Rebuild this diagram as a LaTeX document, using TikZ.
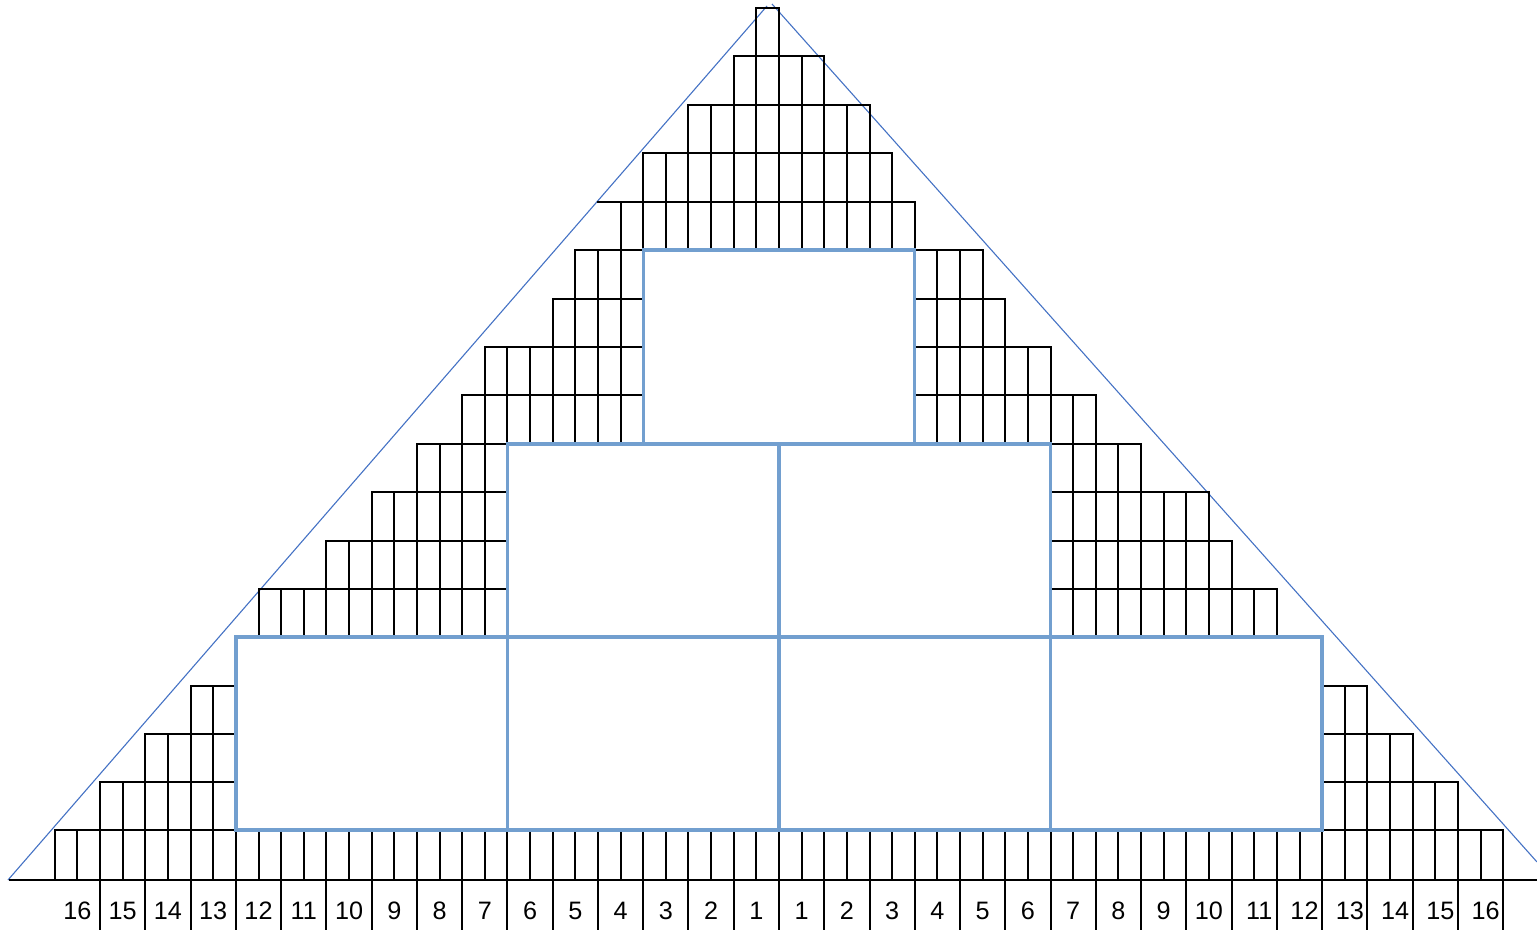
\documentclass[tikz,border=0pt]{standalone}
\usepackage{fontspec}
\setmainfont{Liberation Sans}
\definecolor{framecol}{RGB}{114,159,207}
\definecolor{guidecol}{RGB}{68,114,196}
\begin{document}
\begin{tikzpicture}[x=0.5pt,y=-0.5pt,
  cell/.style={line width=1pt, draw=black, line cap=rect},
  blueframe/.style={line width=1.7pt, draw=framecol},
  guide/.style={line width=0.55pt, draw=guidecol},
  lbl/.style={font=\fontsize{12.6}{14}\selectfont, inner sep=0pt}]
\useasboundingbox (0,0) rectangle (1537,930);
\def\c{779}
\def\h{22.63}
% guide lines of the triangle
\coordinate (gl0) at (8,880);
\coordinate (gl1) at (767,6);
\coordinate (gr0) at (772,4);
\coordinate (gr1) at (1537,862);
\draw[guide] (gl0) -- (gl1);
\draw[guide] (gr0) -- (gr1);
% black cells: top/bottom/first/last half-column
\foreach \t/\b/\a/\e in {
  830/880/-32/32,
  782/830/-30/-24, 782/830/24/30,
  734/782/-28/-24, 734/782/24/28,
  686/734/-26/-24, 686/734/24/26,
  589/637/-23/-12, 589/637/12/22,
  541/589/-20/-12, 541/589/12/20,
  492/541/-18/-12, 492/541/12/19,
  444/492/-16/-12, 444/492/12/16,
  395/444/-14/-6, 395/444/6/14,
  347/395/-13/-6, 347/395/6/12,
  299/347/-10/-6, 299/347/6/10,
  250/299/-9/-6, 250/299/6/9,
  202/250/-7/6,
  153/202/-6/5,
  105/153/-4/4,
  56/105/-2/2,
  8/56/-1/0}{
  \draw[cell] ({\c+\a*\h},\t) -- ({\c+\e*\h},\t);
  \draw[cell] ({\c+\a*\h},\b) -- ({\c+\e*\h},\b);
  \foreach \k in {\a,...,\e}
    \draw[cell] ({\c+\k*\h},\t) -- ({\c+\k*\h},\b);
}
% small overhang of row top
\draw[cell] ({\c-8*\h},202) -- ({\c-7*\h},202);
% base line
\draw[cell] (10,880) -- (1537,880);
% separators of the number row
\foreach \k in {-30,-28,...,-2,0,2,4,...,32}
  \draw[cell] ({\c+\k*\h},880) -- ({\c+\k*\h},930);
% numbers
\foreach \n in {1,...,16}{
  \node[lbl] (l\n) at ({\c-(2*\n-1)*\h},911) {\n};
}
\foreach \n in {1,...,10}{
  \node[lbl] (r\n) at ({\c+(2*\n-1)*\h},911) {\n};
}
\foreach \n in {11,...,16}{
  \node[lbl] (r\n) at ({\c+(2*\n-1)*\h+5},911) {\n};
}
% blue frames
\draw[blueframe] ({\c-24*\h},637) rectangle ({\c+24*\h},830);
\draw[blueframe] ({\c-12*\h},637) -- ({\c-12*\h},830);
\draw[blueframe] (\c,637) -- (\c,830);
\draw[blueframe] ({\c+12*\h},637) -- ({\c+12*\h},830);
\draw[blueframe] ({\c-12*\h},444) rectangle ({\c+12*\h},637);
\draw[blueframe] (\c,444) -- (\c,637);
\draw[blueframe] ({\c-6*\h},250) rectangle ({\c+6*\h},444);
\end{tikzpicture}
\end{document}
